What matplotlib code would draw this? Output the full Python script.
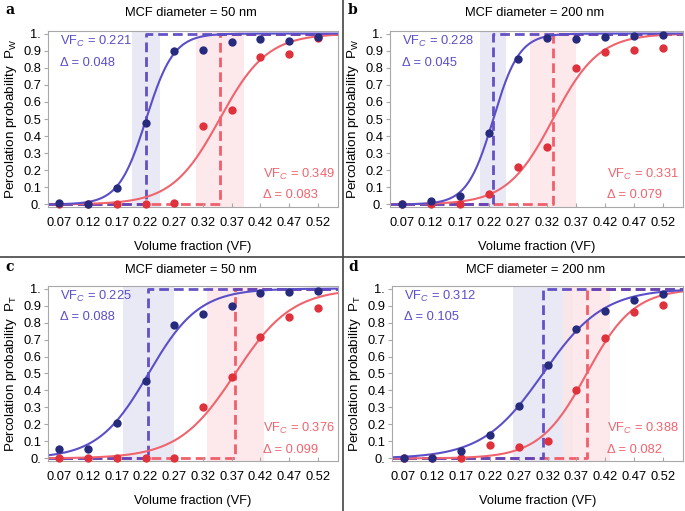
import numpy as np
import matplotlib
matplotlib.use("Agg")
import matplotlib.pyplot as plt
from matplotlib.lines import Line2D

plt.rcParams['font.family'] = ['Liberation Sans', 'DejaVu Sans']
plt.rcParams['mathtext.fontset'] = 'custom'
plt.rcParams['mathtext.rm'] = 'Liberation Sans'
plt.rcParams['mathtext.it'] = 'Liberation Sans:italic'

vf = [0.07, 0.12, 0.17, 0.22, 0.27, 0.32, 0.37, 0.42, 0.47, 0.52]
xtick_labels = ["0.07", "0.12", "0.17", "0.22", "0.27", "0.32", "0.37", "0.42", "0.47", "0.52"]
yticks = [0, 0.1, 0.2, 0.3, 0.4, 0.5, 0.6, 0.7, 0.8, 0.9, 1.0]
ytick_labels = ["0.", "0.1", "0.2", "0.3", "0.4", "0.5", "0.6", "0.7", "0.8", "0.9", "1."]

panel_labels = ["a", "b", "c", "d"]
titles = ["MCF diameter = 50 nm", "MCF diameter = 200 nm",
          "MCF diameter = 50 nm", "MCF diameter = 200 nm"]
ylabels = ["Percolation probability  $\\mathrm{P_W}$", "Percolation probability  $\\mathrm{P_W}$",
           "Percolation probability  $\\mathrm{P_T}$", "Percolation probability  $\\mathrm{P_T}$"]

# blue = series with lower threshold, red = the other one
blue_pts = [
    [0.01, 0.005, 0.098, 0.475, 0.90, 0.904, 0.95, 0.969, 0.959, 0.979],
    [0.004, 0.02, 0.047, 0.42, 0.853, 0.975, 0.969, 0.977, 0.988, 0.994],
    [0.055, 0.055, 0.21, 0.455, 0.785, 0.85, 0.895, 0.975, 0.98, 0.985],
    [0.0, 0.0, 0.045, 0.14, 0.31, 0.55, 0.76, 0.865, 0.93, 0.965],
]
red_pts = [
    [0.0, 0.0, 0.0, 0.005, 0.008, 0.461, 0.555, 0.863, 0.883, 0.975],
    [0.0, 0.0, 0.0, 0.062, 0.22, 0.338, 0.80, 0.895, 0.904, 0.914],
    [0.0, 0.0, 0.0, 0.0, 0.005, 0.30, 0.48, 0.715, 0.83, 0.885],
    [0.0, 0.0, 0.0, 0.078, 0.066, 0.10, 0.40, 0.71, 0.86, 0.905],
]
blue_vfc = [0.221, 0.228, 0.225, 0.312]
blue_delta = [0.048, 0.045, 0.088, 0.105]
red_vfc = [0.349, 0.331, 0.376, 0.388]
red_delta = [0.083, 0.079, 0.099, 0.082]

W, H = 685, 511
fig = plt.figure(figsize=(W / 100, H / 100), dpi=100)

# axes boxes in pixels: left, right, top, bottom
boxes = [(48, 338, 31, 207), (390, 683, 31, 207),
         (48, 338, 286, 461), (392, 683, 286, 461)]
panel_x = [0, 343, 0, 343]
panel_y = [0, 0, 257, 257]

c_blue_line = "#5a4fc8"
c_blue_dot = "#262b7d"
c_blue_dash = "#5540c0"
c_red_line = "#f0646e"
c_red_dot = "#e0323c"
c_red_dash = "#f0606c"
gray = "#a8a8a8"

xmin, xmax = 0.05, 0.555
xs = np.linspace(xmin, xmax, 400)
fs = 9.3

for i in range(4):
    l, r, t, b = boxes[i]
    ax = fig.add_axes([l / W, 1 - b / H, (r - l) / W, (b - t) / H])
    ax.set_xlim(xmin, xmax)
    ax.set_ylim(-0.015, 1.015)

    for vfc, d, col in [(blue_vfc[i], blue_delta[i], "#e6e6f4"), (red_vfc[i], red_delta[i], "#fde6e8")]:
        ax.axvspan(vfc - d / 2, vfc + d / 2, color=col, alpha=0.85, lw=0, zorder=0)

    # step functions
    ax.plot([xmin, red_vfc[i], red_vfc[i], xmax], [0, 0, 1, 1], ls=(0, (3.5, 1.8)),
            color=c_red_dash, lw=2.0, zorder=1)
    ax.plot([xmin, blue_vfc[i], blue_vfc[i], xmax], [0, 0, 1, 1], ls=(0, (3.5, 1.8)),
            color=c_blue_dash, lw=2.0, alpha=0.9, zorder=1)

    ax.plot(xs, 0.5 * (1 + np.tanh((xs - red_vfc[i]) / red_delta[i])), color=c_red_line, lw=1.5, zorder=2)
    ax.plot(xs, 0.5 * (1 + np.tanh((xs - blue_vfc[i]) / blue_delta[i])), color=c_blue_line, lw=1.5, zorder=2)

    ax.plot(vf, red_pts[i], 'o', color=c_red_dot, ms=6, mew=0, zorder=3, clip_on=False)
    ax.plot(vf, blue_pts[i], 'o', color=c_blue_dot, ms=6, mew=0, zorder=4, clip_on=False)

    ax.set_xticks(vf)
    ax.set_xticklabels(xtick_labels)
    ax.set_yticks(yticks)
    ax.set_yticklabels(ytick_labels)
    ax.tick_params(axis='x', direction='in', length=3, width=0.8, color=gray, labelsize=fs, pad=7)
    ax.tick_params(axis='y', direction='out', length=3, width=0.8, color=gray, labelsize=fs, pad=2)
    for s in ax.spines.values():
        s.set_color(gray)
        s.set_linewidth(0.8)

    ax.text(0.04, 0.985, "VF$_C$ = %.3f" % blue_vfc[i], transform=ax.transAxes,
            color=c_blue_line, fontsize=fs, va='top', ha='left')
    ax.text(0.04, 0.855, "\u0394 = %.3f" % blue_delta[i], transform=ax.transAxes,
            color=c_blue_line, fontsize=fs, va='top', ha='left')
    ax.text(0.74, 0.23, "VF$_C$ = %.3f" % red_vfc[i], transform=ax.transAxes,
            color=c_red_line, fontsize=fs, va='top', ha='left')
    ax.text(0.74, 0.10, "\u0394 = %.3f" % red_delta[i], transform=ax.transAxes,
            color=c_red_line, fontsize=fs, va='top', ha='left')

    ax.set_ylabel(ylabels[i], fontsize=fs + 0.4, labelpad=3)
    ax.set_xlabel("Volume fraction (VF)", fontsize=fs, labelpad=9)

    cx = (l + r) / 2 - 2
    fig.text(cx / W, 1 - (panel_y[i] + 13) / H, titles[i], ha='center', va='center', fontsize=fs)
    fig.text((panel_x[i] + 5) / W, 1 - (panel_y[i] + 10) / H, panel_labels[i], ha='left', va='center',
             fontsize=10, fontweight='bold', family='DejaVu Serif')

# panel dividers
fig.add_artist(Line2D([343 / W, 343 / W], [0, 1], color="#444444", lw=1.2))
fig.add_artist(Line2D([0, 1], [1 - 257 / H, 1 - 257 / H], color="#444444", lw=1.2))

fig.savefig("out.png", dpi=100)
